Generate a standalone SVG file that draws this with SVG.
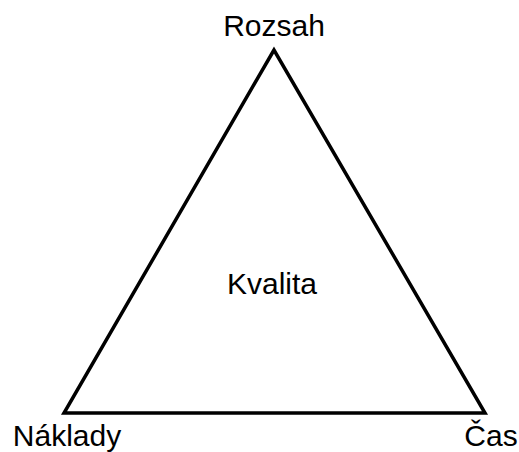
<svg xmlns="http://www.w3.org/2000/svg" width="519" height="452" viewBox="0 0 519 452">
<style>
text{font-family:"Liberation Sans",Arial,sans-serif;font-size:30px;fill:#000;text-anchor:middle}
.tri{fill:none;stroke:#000;stroke-width:3.5;stroke-linejoin:miter}
</style>
<rect width="519" height="452" fill="#fff"/>
<g id="connectors">
<polygon class="tri" points="274,50 64,413 485,413"/>
</g>
<g id="rozsah"><text x="274" y="36">Rozsah</text></g>
<g id="kvalita"><text x="272" y="294">Kvalita</text></g>
<g id="naklady"><text x="67" y="446">Náklady</text></g>
<g id="cas"><text x="491" y="446">Čas</text></g>
</svg>
